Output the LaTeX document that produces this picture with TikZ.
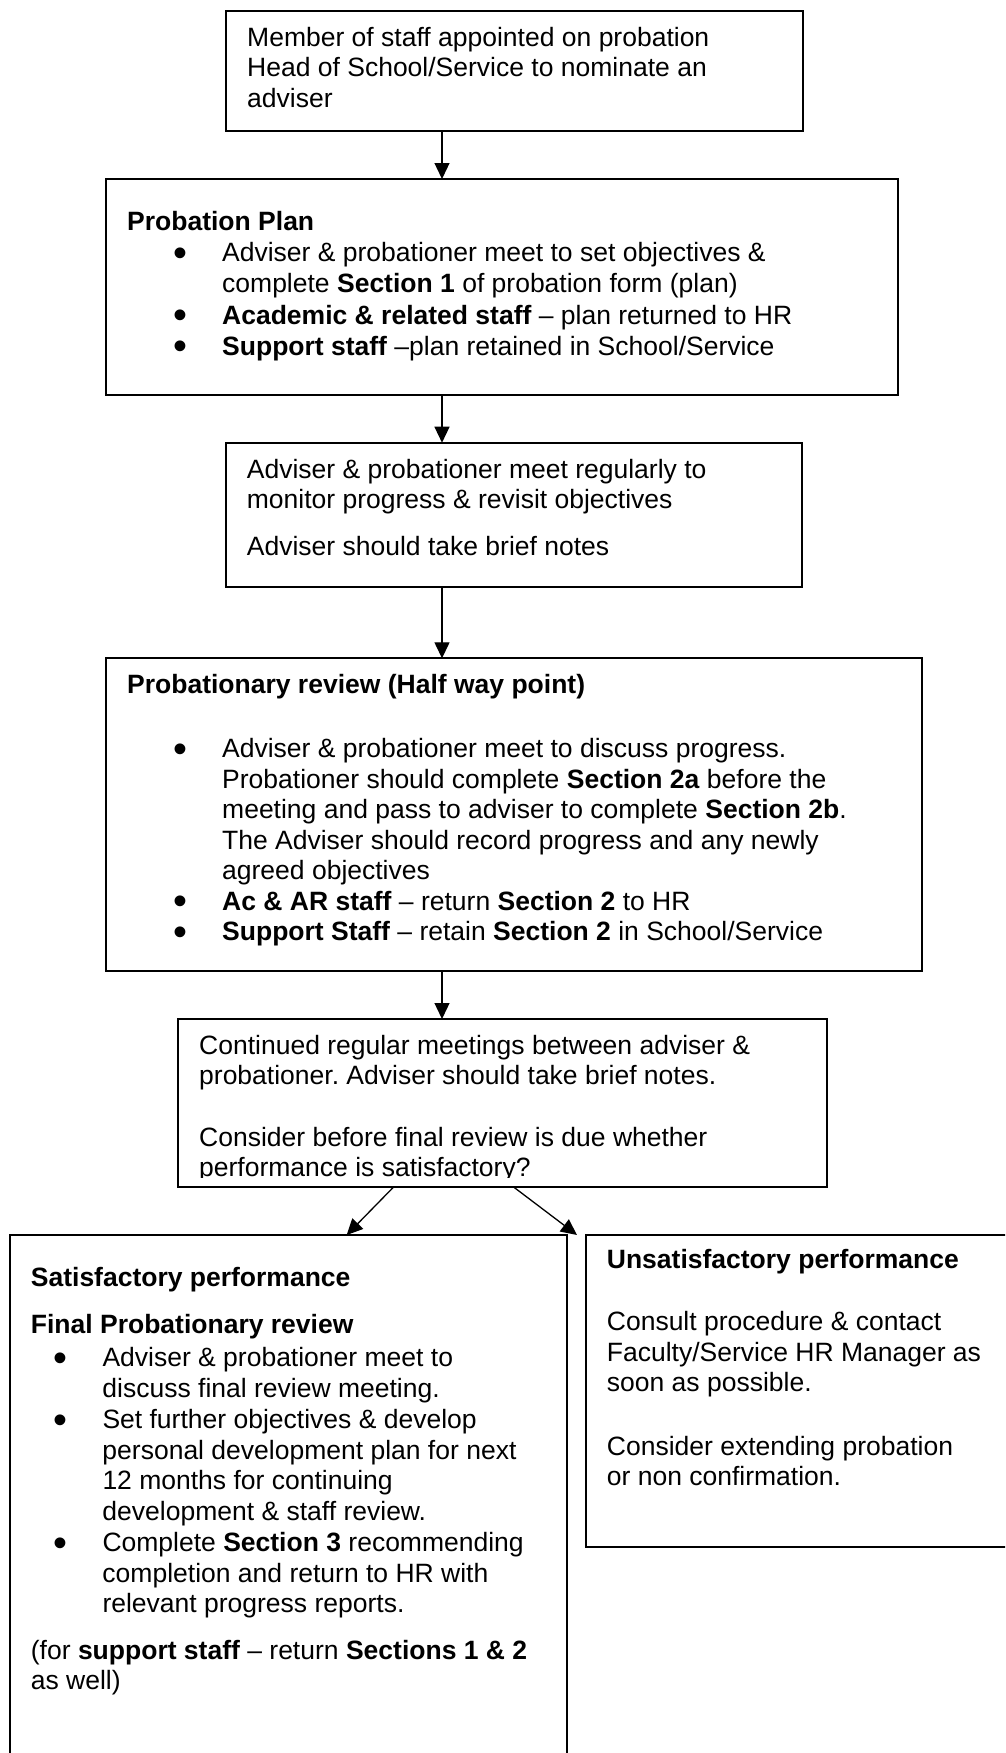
\documentclass[tikz,border=0pt]{standalone}
\usepackage{fontspec}
\setmainfont{Liberation Sans}
\usetikzlibrary{positioning,arrows.meta}
\tikzstyle{stage} = [draw, line width=1.9pt, anchor=north west, inner sep=0pt, outer sep=0pt]
\tikzstyle{stagetext} = [align=left, inner sep=0pt, font=\fontsize{26.5}{30.5}\selectfont\frenchspacing]
\tikzstyle{arrow} = [line width=1.3pt, -{Triangle[length=16pt,width=15pt]}]
\newcommand{\stagedot}{\raisebox{-4.5pt}{\scalebox{1.5}{\textbullet}}}
\newcommand{\bulA}{\makebox[95pt][l]{\hspace*{46pt}\stagedot}}
\newcommand{\indA}{\hspace*{95pt}}
\newcommand{\bulB}{\makebox[71.6pt][l]{\hspace*{22.3pt}\stagedot}}
\newcommand{\indB}{\hspace*{71.6pt}}

\begin{document}
\begin{tikzpicture}[x=1pt,y=-1pt]
    \path [use as bounding box, clip] (0,0) rectangle (1005,1753);
    \coordinate (spine) at (442,0);

    \node (appoint) [stage, minimum width=576.7pt, minimum height=120pt] at (226,11) {};
    \node (appointtext) [stagetext, below right=15.8pt and 21pt of appoint.north west]
      {Member of staff appointed on probation\\
       Head of School/Service to nominate an\\
       adviser};

    \node (plan) [stage, minimum width=792.3pt, minimum height=216pt] at (105.7,179) {};
    \node (plantext) [stagetext, font=\fontsize{26.5}{31.3}\selectfont,
      below right=31.8pt and 21.3pt of plan.north west]
      {\textbf{Probation Plan}\\
       \bulA Adviser \& probationer meet to set objectives \&\\
       \indA complete \textbf{Section 1} of probation form (plan)\\
       \bulA \textbf{Academic \& related staff} -- plan returned to HR\\
       \bulA \textbf{Support staff} --plan retained in School/Service};
    \draw [arrow] (appoint.south -| spine) -- (plan.north -| spine);

    \node (meet) [stage, minimum width=576.6pt, minimum height=144.6pt] at (225.7,442.7) {};
    \node (meettext) [stagetext, below right=16.1pt and 21pt of meet.north west]
      {Adviser \& probationer meet regularly to\\
       monitor progress \& revisit objectives\\[16.5pt]
       Adviser should take brief notes};
    \draw [arrow] (plan.south -| spine) -- (meet.north -| spine);

    \node (review) [stage, minimum width=816.6pt, minimum height=312.7pt] at (105.7,658.3) {};
    \node (reviewtext) [stagetext, below right=15.8pt and 21.3pt of review.north west]
      {\textbf{Probationary review (Half way point)}\\[33.5pt]
       \bulA Adviser \& probationer meet to discuss progress.\\
       \indA Probationer should complete \textbf{Section 2a} before the\\
       \indA meeting and pass to adviser to complete \textbf{Section 2b}.\\
       \indA The Adviser should record progress and any newly\\
       \indA agreed objectives\\
       \bulA \textbf{Ac \& AR staff} -- return \textbf{Section 2} to HR\\
       \bulA \textbf{Support Staff} -- retain \textbf{Section 2} in School/Service};
    \draw [arrow] (meet.south -| spine) -- (review.north -| spine);

    \node (cont) [stage, minimum width=649pt, minimum height=168.3pt] at (177.7,1019) {};
    \begin{scope}
      \clip (cont.north west) rectangle ([yshift=9.8pt]cont.south east);
      \node (conttext) [stagetext, below right=15.8pt and 21.3pt of cont.north west]
        {Continued regular meetings between adviser \&\\
         probationer. Adviser should take brief notes.\\[31.2pt]
         Consider before final review is due whether\\
         performance is satisfactory?};
    \end{scope}
    \draw [arrow] (review.south -| spine) -- (cont.north -| spine);

    \node (pass) [stage, minimum width=556.7pt, minimum height=540pt] at (10,1235) {};
    \node (passtext) [stagetext, below right=32.1pt and 20.7pt of pass.north west]
      {\textbf{Satisfactory performance}\\[16.2pt]
       \textbf{Final Probationary review}\\[2.8pt]
       \bulB Adviser \& probationer meet to\\
       \indB discuss final review meeting.\\[1.2pt]
       \bulB Set further objectives \& develop\\
       \indB personal development plan for next\\
       \indB 12 months for continuing\\
       \indB development \& staff review.\\[1.2pt]
       \bulB Complete \textbf{Section 3} recommending\\
       \indB completion and return to HR with\\
       \indB relevant progress reports.\\[16pt]
       (for \textbf{support staff} -- return \textbf{Sections 1 \& 2}\\
       as well)};

    \node (fail) [stage, minimum width=440pt, minimum height=312.3pt] at (585.7,1235) {};
    \node (failtext) [stagetext, below right=14.1pt and 21pt of fail.north west]
      {\textbf{Unsatisfactory performance}\\[31.9pt]
       Consult procedure \& contact\\
       Faculty/Service HR Manager as\\
       soon as possible.\\[32.9pt]
       Consider extending probation\\
       or non confirmation.};

    \draw [arrow] ([xshift=-108.9pt]cont.south) -- ([xshift=58.3pt]pass.north);
    \draw [arrow] ([xshift=11.8pt]cont.south) -- ([xshift=-8.7pt]fail.north west);
\end{tikzpicture}
\end{document}
